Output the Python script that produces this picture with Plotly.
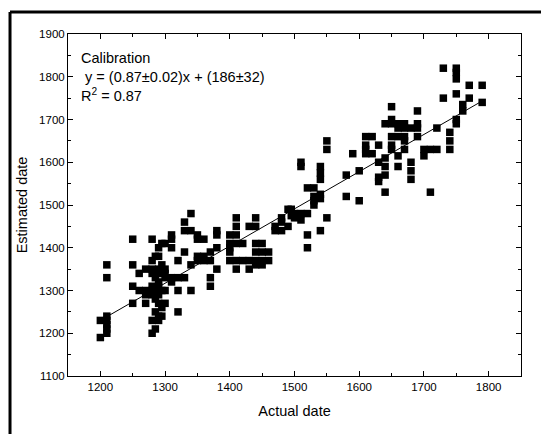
import plotly.graph_objects as go

# Data (actual date -> list of estimated dates)
actual_dates = [1200, 1210, 1250, 1260, 1270, 1280, 1285, 1290, 1295, 1300,
                1310, 1320, 1330, 1340, 1350, 1360, 1370, 1380, 1400, 1410,
                1420, 1430, 1440, 1450, 1460, 1470, 1480, 1490, 1495, 1500,
                1510, 1520, 1530, 1540, 1550, 1580, 1590, 1600, 1610, 1620,
                1630, 1640, 1650, 1660, 1670, 1680, 1690, 1700, 1710, 1720,
                1730, 1740, 1750, 1760, 1770, 1790]
estimated_dates = [
    [1230, 1190],
    [1360, 1330, 1240, 1230, 1220, 1210, 1200],
    [1420, 1360, 1310, 1270],
    [1340, 1300],
    [1350, 1300, 1290, 1270],
    [1420, 1370, 1350, 1340, 1310, 1300, 1290, 1230, 1200],
    [1380, 1330, 1300, 1280, 1250, 1210],
    [1400, 1380, 1350, 1340, 1320, 1310, 1290, 1270, 1240, 1230],
    [1410, 1360, 1340, 1300, 1260, 1240],
    [1410, 1350, 1340, 1330, 1300, 1270],
    [1430, 1420, 1400, 1330, 1320],
    [1370, 1330, 1300, 1250],
    [1460, 1440, 1390, 1330],
    [1480, 1440, 1360, 1300],
    [1430, 1420, 1380, 1370],
    [1420, 1380, 1370],
    [1390, 1370, 1330, 1310],
    [1440, 1430, 1400, 1350],
    [1430, 1410, 1400, 1390, 1370],
    [1470, 1450, 1430, 1410, 1370, 1350],
    [1410, 1370],
    [1450, 1370, 1350],
    [1470, 1450, 1410, 1390, 1370, 1360],
    [1410, 1390, 1370, 1360],
    [1390, 1370],
    [1450, 1440],
    [1470, 1460, 1440],
    [1490, 1450],
    [1490, 1475],
    [1480, 1470],
    [1600, 1590, 1480, 1465],
    [1540, 1480, 1430, 1400],
    [1540, 1520, 1510, 1500],
    [1590, 1575, 1560, 1525, 1515, 1440],
    [1650, 1630, 1470],
    [1570, 1520],
    [1620],
    [1580, 1510],
    [1660, 1640, 1630, 1620],
    [1660, 1620],
    [1640, 1600, 1565, 1555],
    [1690, 1610, 1590, 1570, 1530],
    [1730, 1700, 1690, 1660, 1640, 1630],
    [1690, 1680, 1660, 1615, 1590],
    [1690, 1680, 1660, 1650, 1630],
    [1680, 1600, 1580, 1560],
    [1720, 1690, 1680, 1660],
    [1630, 1615],
    [1630, 1530],
    [1680, 1630],
    [1820, 1750],
    [1670, 1650, 1630],
    [1820, 1810, 1795, 1760, 1700, 1690],
    [1735, 1720],
    [1780, 1750],
    [1780, 1740],
]

fit_slope = 0.87
fit_intercept = 186
fit_x_range = [1210, 1790]

x_ticks = [1200, 1300, 1400, 1500, 1600, 1700, 1800]
y_ticks = [1100, 1200, 1300, 1400, 1500, 1600, 1700, 1800, 1900]

xs, ys = [], []
for a, ests in zip(actual_dates, estimated_dates):
    for e in ests:
        xs.append(a)
        ys.append(e)

fit_y = [fit_slope * v + fit_intercept for v in fit_x_range]

FONT = "Liberation Sans, Arial, sans-serif"

fig = go.Figure()
fig.add_trace(go.Scatter(
    x=xs, y=ys, mode="markers",
    marker=dict(symbol="square", size=7.5, color="black", line=dict(width=0)),
    showlegend=False, hoverinfo="skip"))
fig.add_trace(go.Scatter(
    x=fit_x_range, y=fit_y, mode="lines",
    line=dict(color="black", width=1), showlegend=False, hoverinfo="skip"))

axis_common = dict(
    showgrid=False, zeroline=False, showline=True, linecolor="black",
    linewidth=1, mirror="ticks", ticks="inside", ticklen=5, tickwidth=1,
    tickcolor="black", tickfont=dict(family=FONT, size=11.5, color="black"),
    automargin=False,
)

fig.update_xaxes(
    range=[1150, 1850], tickvals=x_ticks,
    minor=dict(ticks="inside", ticklen=3, dtick=50, tick0=1150, tickcolor="black"),
    title=dict(text="Actual date", font=dict(family=FONT, size=14.5, color="black"), standoff=14),
    **axis_common)
fig.update_yaxes(
    range=[1100, 1900], tickvals=y_ticks,
    minor=dict(ticks="inside", ticklen=3, dtick=50, tick0=1100, tickcolor="black"),
    title=dict(text="Estimated date", font=dict(family=FONT, size=14.5, color="black"), standoff=8),
    **axis_common)

fig.add_annotation(
    xref="paper", yref="paper", x=0.025, y=0.96, xanchor="left", yanchor="top",
    align="left", showarrow=False,
    text="Calibration<br> y = (0.87±0.02)x + (186±32)<br>R<sup>2</sup> = 0.87",
    font=dict(family=FONT, size=14.5, color="black"))

# outer frame (top and left edges, as in the reference)
fig.add_shape(type="line", xref="paper", yref="paper",
              x0=-0.128, x1=1.2, y0=1.064, y1=1.064,
              line=dict(color="black", width=3))
fig.add_shape(type="line", xref="paper", yref="paper",
              x0=-0.128, x1=-0.128, y0=1.064, y1=-0.2,
              line=dict(color="black", width=3))

fig.update_layout(
    width=541, height=434,
    margin=dict(l=68, r=20, t=34, b=58),
    paper_bgcolor="white", plot_bgcolor="white",
    font=dict(family=FONT, color="black"),
)

fig.write_html("out.html", config={"displayModeBar": False},
               post_script="document.body.style.margin='0';document.body.style.overflow='hidden';")
